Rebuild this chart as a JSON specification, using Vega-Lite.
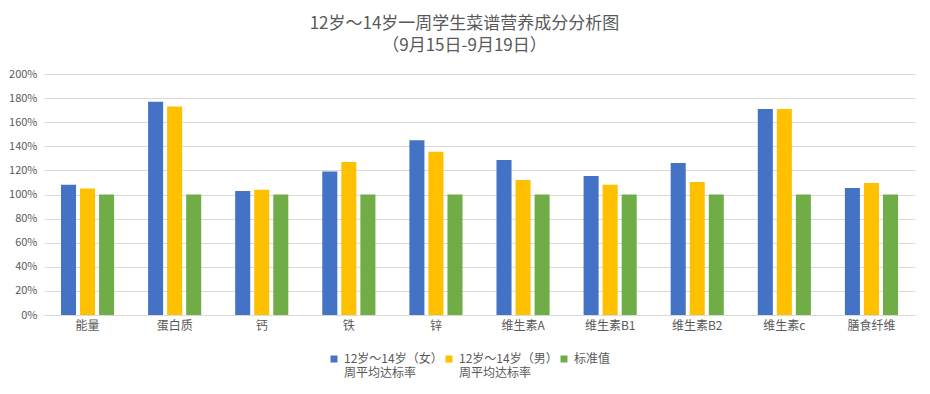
{
  "$schema": "https://vega.github.io/schema/vega-lite/v6.json",
  "autosize": {"type": "none"},
  "width": 871,
  "height": 241,
  "padding": {"left": 44, "top": 74, "right": 15, "bottom": 79},
  "background": "white",
  "title": {
    "text": ["12岁～14岁一周学生菜谱营养成分分析图", "（9月15日-9月19日）"],
    "font": "Noto Sans CJK SC",
    "fontSize": 17,
    "fontWeight": "normal",
    "color": "#595959",
    "lineHeight": 22,
    "anchor": "middle",
    "dx": -15,
    "offset": 13
  },
  "data": {
    "values": [
      {"cat": "能量", "s": "女", "v": 1.08}, {"cat": "能量", "s": "男", "v": 1.05}, {"cat": "能量", "s": "标", "v": 1.0},
      {"cat": "蛋白质", "s": "女", "v": 1.77}, {"cat": "蛋白质", "s": "男", "v": 1.73}, {"cat": "蛋白质", "s": "标", "v": 1.0},
      {"cat": "钙", "s": "女", "v": 1.03}, {"cat": "钙", "s": "男", "v": 1.04}, {"cat": "钙", "s": "标", "v": 1.0},
      {"cat": "铁", "s": "女", "v": 1.19}, {"cat": "铁", "s": "男", "v": 1.27}, {"cat": "铁", "s": "标", "v": 1.0},
      {"cat": "锌", "s": "女", "v": 1.45}, {"cat": "锌", "s": "男", "v": 1.355}, {"cat": "锌", "s": "标", "v": 1.0},
      {"cat": "维生素A", "s": "女", "v": 1.286}, {"cat": "维生素A", "s": "男", "v": 1.12}, {"cat": "维生素A", "s": "标", "v": 1.0},
      {"cat": "维生素B1", "s": "女", "v": 1.153}, {"cat": "维生素B1", "s": "男", "v": 1.08}, {"cat": "维生素B1", "s": "标", "v": 1.0},
      {"cat": "维生素B2", "s": "女", "v": 1.261}, {"cat": "维生素B2", "s": "男", "v": 1.104}, {"cat": "维生素B2", "s": "标", "v": 1.0},
      {"cat": "维生素c", "s": "女", "v": 1.71}, {"cat": "维生素c", "s": "男", "v": 1.71}, {"cat": "维生素c", "s": "标", "v": 1.0},
      {"cat": "膳食纤维", "s": "女", "v": 1.054}, {"cat": "膳食纤维", "s": "男", "v": 1.095}, {"cat": "膳食纤维", "s": "标", "v": 1.0}
    ]
  },
  "transform": [
    {"lookup": "s", "from": {"data": {"values": [
      {"s": "女", "series": "12岁～14岁（女）|周平均达标率"},
      {"s": "男", "series": "12岁～14岁（男）|周平均达标率"},
      {"s": "标", "series": "标准值| "}
    ]}, "key": "s", "fields": ["series"]}}
  ],
  "mark": {"type": "bar"},
  "encoding": {
    "x": {
      "field": "cat",
      "type": "nominal",
      "sort": null,
      "title": null,
      "scale": {"paddingInner": 0.39, "paddingOuter": 0.195},
      "axis": {
        "labelAngle": 0,
        "labelFont": "Noto Sans CJK SC",
        "labelFontSize": 12,
        "labelColor": "#595959",
        "labelPadding": 5,
        "ticks": false,
        "domainColor": "#d9d9d9",
        "domainWidth": 1
      }
    },
    "xOffset": {
      "field": "series",
      "type": "nominal",
      "sort": ["12岁～14岁（女）|周平均达标率", "12岁～14岁（男）|周平均达标率", "标准值| "],
      "scale": {"paddingInner": 0.21, "paddingOuter": 0}
    },
    "y": {
      "field": "v",
      "type": "quantitative",
      "title": null,
      "scale": {"domain": [0, 2], "nice": false},
      "axis": {
        "format": ".0%",
        "values": [0, 0.2, 0.4, 0.6, 0.8, 1.0, 1.2, 1.4, 1.6, 1.8, 2.0],
        "labelFont": "Noto Sans CJK SC",
        "labelFontSize": 11,
        "labelColor": "#595959",
        "labelPadding": 7,
        "ticks": false,
        "domain": false,
        "gridColor": "#d9d9d9",
        "gridWidth": 1
      }
    },
    "color": {
      "field": "series",
      "type": "nominal",
      "scale": {
        "domain": ["12岁～14岁（女）|周平均达标率", "12岁～14岁（男）|周平均达标率", "标准值| "],
        "range": ["#4472C4", "#FFC000", "#70AD47"]
      },
      "legend": {
        "title": null,
        "orient": "none",
        "legendX": 284,
        "legendY": 279,
        "direction": "horizontal",
        "columns": 3,
        "columnPadding": -16,
        "symbolType": "square",
        "symbolSize": 49,
        "symbolStrokeWidth": 0,
        "labelOffset": 4,
        "labelFont": "Noto Sans CJK SC",
        "labelFontSize": 12,
        "labelColor": "#595959",
        "labelLimit": 200,
        "labelBaseline": "middle",
        "labelExpr": "split(datum.label, '|')"
      }
    }
  },
  "config": {
    "view": {"stroke": null},
    "font": "Noto Sans CJK SC"
  }
}
